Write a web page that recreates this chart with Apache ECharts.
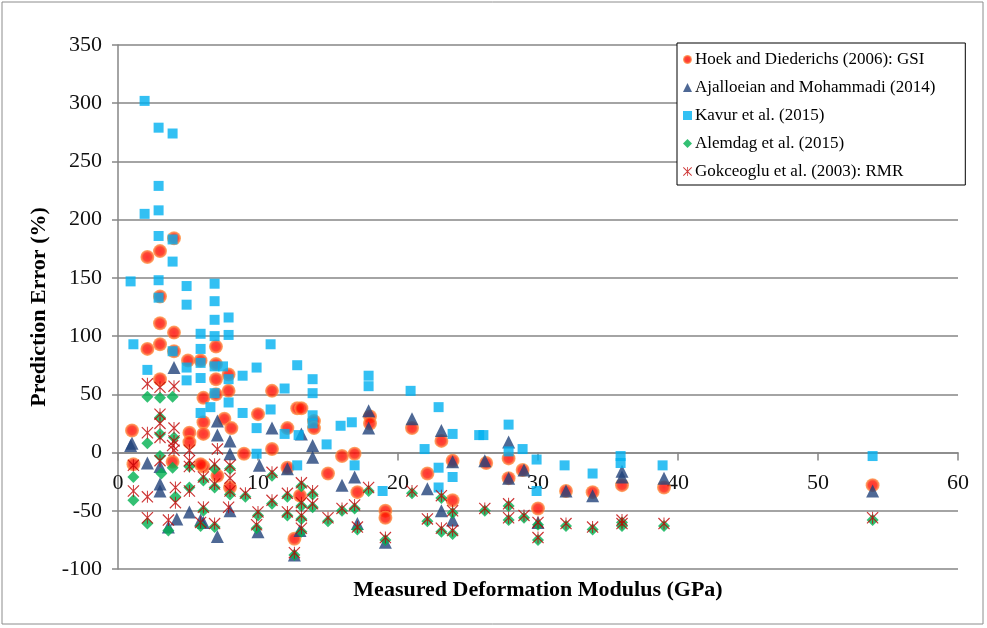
<!DOCTYPE html>
<html>
<head>
<meta charset="utf-8">
<script src="https://cdn.jsdelivr.net/npm/echarts@6/dist/echarts.min.js"></script>
<style>
  html, body { margin: 0; padding: 0; background: #ffffff; }
  #chart { width: 987px; height: 628px; }
</style>
</head>
<body>
<div id="chart"></div>
<script>
// Series names
const seriesNames = [
  'Hoek and Diederichs (2006): GSI',
  'Ajalloeian and Mohammadi (2014)',
  'Kavur et al. (2015)',
  'Alemdag et al. (2015)',
  'Gokceoglu et al. (2003): RMR'
];

// Axis settings
const xTicks = { min: 0, max: 60, interval: 10 };
const yTicks = { min: -100, max: 350, interval: 50 };
const xTitle = 'Measured Deformation Modulus (GPa)';
const yTitle = 'Prediction Error (%)';

// [measured modulus (GPa), prediction error (%)]
const hoek = [
  [4,184],[2.1,168],[3,173],[3,134],[3,111],[4,103],[3,93],[2.1,89],[4,87],[5,79],
  [5.9,79],[7,91],[7,76],[7.9,67],[7,63],[3,63],[7.9,53],[11,53],[6.1,47],[7,50],
  [12.8,38],[10,33],[7.6,29],[6.1,26],[8.1,21],[6.1,16],[5.1,17],[5.1,9],[1,19],[9,-1],
  [11,3],[12.1,21],[13.1,38],[14,27],[14,21],[18,31],[18,25],[21,21],[23.1,10],[16,-3],
  [16.9,-1],[12.1,-13],[15,-18],[22.1,-18],[23.9,-7],[17.1,-34],[19.1,-50],[19.1,-56],[23.9,-41],[12.6,-74],
  [13,-37],[26.3,-9],[27.9,-5],[27.9,-22],[28.9,-15],[30,-48],[32,-33],[33.9,-34],[36,-28],[39,-30],
  [53.9,-28],[1.1,-10],[6.1,-12],[7.1,-20],[3.9,-8],[5.9,-10],[8,-30]
];
const ajalloeian = [
  [4,73],[7.1,27],[7.1,15],[8,10],[11,21],[1,8],[2.1,-9],[8,-1],[10.1,-11],[12.1,-14],
  [13.1,16],[13.9,6],[13.9,-4],[17.9,36],[17.9,21],[21,29],[23.1,19],[16.9,-21],[23.9,-8],[16,-28],
  [22.1,-31],[23.1,-50],[23.9,-58],[17.1,-61],[12.6,-88],[19.1,-77],[13,-67],[26.2,-7],[27.9,9],[27.9,-22],
  [29,-15],[30,-60],[32,-33],[33.9,-37],[36,-21],[36,-16],[39,-22],[53.9,-33],[3,-27],[3.6,-64],
  [7.1,-72],[10,-68],[5.1,-51],[4.2,-57],[6.1,-60],[8,-50],[3,-33],[5.9,-58],[0.9,6],[3,-12]
];
const kavur = [
  [0.9,147],[1.1,93],[1.9,302],[1.9,205],[2.9,279],[2.9,229],[2.9,208],[2.9,186],[2.9,148],[2.9,133],
  [3.9,274],[3.9,183],[3.9,164],[4.9,143],[4.9,127],[6.9,145],[6.9,130],[6.9,114],[7.9,116],[6.9,100],
  [7.9,101],[5.9,102],[3.9,87],[5.9,89],[5.9,77],[10.9,93],[4.9,73],[5.9,64],[6.9,74],[7.5,74],
  [7.9,63],[8.9,66],[9.9,73],[12.8,75],[2.1,71],[4.9,62],[6.9,51],[7.9,43],[11.9,55],[5.9,34],
  [6.6,39],[8.9,34],[10.9,37],[9.9,21],[11.9,16],[12.8,-11],[9.9,-1],[13.9,63],[13.9,51],[17.9,66],
  [17.9,57],[20.9,53],[22.9,39],[13.9,32],[13.9,25],[12.9,15],[14.9,7],[15.9,23],[16.7,26],[21.9,3],
  [23.9,16],[25.8,15],[16.9,-11],[22.9,-13],[23.9,-21],[18.9,-33],[22.9,-30],[26.1,15],[27.9,24],[27.9,1],
  [28.9,3],[29.9,-6],[29.9,-33],[31.9,-11],[33.9,-18],[35.9,-3],[35.9,-9],[38.9,-11],[53.9,-3]
];
const alemdag = [
  [2.1,48],[3,47],[3.9,48],[2.1,8],[3,16],[4,13],[3,30],[3.9,-13],[1.1,-21],[1.1,-41],
  [2.1,-61],[3.1,-18],[3,-3],[5.1,-12],[5.1,-30],[3.6,-67],[4.1,-38],[6.1,-24],[6.1,-50],[6.9,-14],
  [6.9,-30],[6.9,-64],[8,-14],[8,-36],[9.1,-38],[10,-54],[11,-20],[11,-44],[12.1,-38],[12.1,-54],
  [13.1,-29],[13.1,-46],[13.1,-57],[13.1,-68],[13.9,-36],[13.9,-47],[15,-59],[16,-50],[16.9,-48],[17.1,-66],
  [17.9,-33],[19.1,-75],[21,-35],[22.1,-59],[23.1,-39],[23.1,-68],[23.9,-52],[23.9,-70],[26.2,-50],[27.9,-46],
  [27.9,-58],[29,-56],[30,-62],[30,-75],[32,-63],[33.9,-66],[36,-60],[36,-63],[39,-63],[53.9,-58],
  [12.6,-88],[9.9,-65],[5.9,-63]
];
const gokceoglu = [
  [2.1,59],[3,56],[4,57],[3,33],[3,25],[2.1,17],[3,13],[4,21],[4,10],[1.1,-11],
  [3,-7],[4,2],[5.1,2],[7.1,3],[1.1,-33],[2.1,-38],[2.1,-56],[3.9,6],[4.1,-30],[3.6,-58],
  [4.1,-43],[5.1,-7],[5.1,-33],[6.1,-21],[6.1,-47],[6.9,-10],[6.9,-27],[6.9,-61],[8,-11],[8,-33],
  [9.1,-35],[10,-51],[11,-17],[11,-41],[12.1,-35],[12.1,-51],[13.1,-26],[13.1,-43],[13.1,-54],[13.1,-65],
  [13.9,-33],[13.9,-44],[15,-56],[16,-48],[16.9,-45],[17.1,-64],[17.9,-30],[19.1,-73],[21,-33],[22.1,-57],
  [23.1,-37],[23.1,-65],[23.9,-50],[23.9,-67],[26.2,-48],[27.9,-44],[27.9,-56],[29,-54],[30,-60],[30,-73],
  [32,-61],[33.9,-64],[36,-58],[36,-61],[39,-61],[53.9,-56],[12.6,-86],[9.9,-62],[5.9,-60],[7.9,-47],
  [5.1,-12],[8,-22]
];

// Six-armed asterisk marker (X plus a vertical bar)
const asteriskPath = 'path://M46,0L54,0L54,100L46,100Z M0,7L7,0L100,93L93,100Z M93,0L100,7L7,100L0,93Z';

const gridGray = '#868686';
const serif = '"Liberation Serif", "Times New Roman", serif';

const gridBox = { left: 118, right: 29, top: 45, bottom: 59 };
const plotHeight = 628 - gridBox.top - gridBox.bottom;
// Lift the horizontal axis from the grid bottom up to the zero line of the value scale
const zeroLift = plotHeight * (0 - yTicks.min) / (yTicks.max - yTicks.min);

const chart = echarts.init(document.getElementById('chart'), null, { renderer: 'canvas' });

const circleFill = new echarts.graphic.RadialGradient(0.5, 0.5, 0.5, [
  { offset: 0, color: '#ff0000' },
  { offset: 0.6, color: '#ff1a00' },
  { offset: 1, color: '#ffa24a' }
]);

chart.setOption({
  backgroundColor: '#ffffff',
  animation: false,
  grid: Object.assign({ outerBoundsMode: 'none', containLabel: false }, gridBox),
  graphic: [{
    type: 'rect',
    shape: { x: 2, y: 2, width: 981, height: 622 },
    style: { fill: 'none', stroke: '#8c8c8c', lineWidth: 1 },
    silent: true
  }],
  legend: {
    orient: 'vertical',
    left: 677,
    top: 43,
    padding: [8, 30, 5, 6],
    itemGap: 11,
    itemWidth: 9,
    itemHeight: 9,
    backgroundColor: '#ffffff',
    borderColor: '#000000',
    borderWidth: 1,
    borderRadius: 0,
    textStyle: { fontFamily: serif, fontSize: 17, color: '#000000', padding: [0, 0, 0, -2] },
    data: seriesNames
  },
  xAxis: {
    type: 'value',
    position: 'bottom',
    offset: -zeroLift,
    min: xTicks.min, max: xTicks.max, interval: xTicks.interval,
    name: xTitle,
    nameLocation: 'middle',
    nameGap: 127,
    nameTextStyle: { fontFamily: serif, fontSize: 22, fontWeight: 'bold', color: '#000000' },
    axisLine: { show: true, onZero: false, lineStyle: { color: gridGray, width: 1.5 } },
    axisTick: { show: true, length: 8, inside: false, lineStyle: { color: gridGray, width: 1.5 } },
    axisLabel: { fontFamily: serif, fontSize: 22, color: '#111111', margin: 20 },
    splitLine: { show: false }
  },
  yAxis: {
    type: 'value',
    min: yTicks.min, max: yTicks.max, interval: yTicks.interval,
    name: yTitle,
    nameLocation: 'middle',
    nameGap: 64,
    nameRotate: 90,
    nameTextStyle: { fontFamily: serif, fontSize: 22, fontWeight: 'bold', color: '#000000' },
    axisLine: { show: true, onZero: false, lineStyle: { color: gridGray, width: 1.5 } },
    axisTick: { show: true, length: 6, lineStyle: { color: gridGray, width: 1.5 } },
    axisLabel: { fontFamily: serif, fontSize: 22, color: '#111111', margin: 16 },
    splitLine: { show: true, lineStyle: { color: gridGray, width: 1.5 } }
  },
  series: [
    {
      name: seriesNames[0], type: 'scatter', data: hoek,
      symbol: 'circle', symbolSize: 14,
      itemStyle: { color: circleFill }
    },
    {
      name: seriesNames[1], type: 'scatter', data: ajalloeian,
      symbol: 'triangle', symbolSize: 13,
      itemStyle: { color: '#22427a' }
    },
    {
      name: seriesNames[2], type: 'scatter', data: kavur,
      symbol: 'rect', symbolSize: 10,
      itemStyle: { color: '#00b0f0' }
    },
    {
      name: seriesNames[3], type: 'scatter', data: alemdag,
      symbol: 'diamond', symbolSize: 12,
      itemStyle: { color: '#00b050' }
    },
    {
      name: seriesNames[4], type: 'scatter', data: gokceoglu,
      symbol: asteriskPath, symbolSize: 12,
      itemStyle: { color: '#c00000' }
    }
  ]
});
</script>
</body>
</html>
